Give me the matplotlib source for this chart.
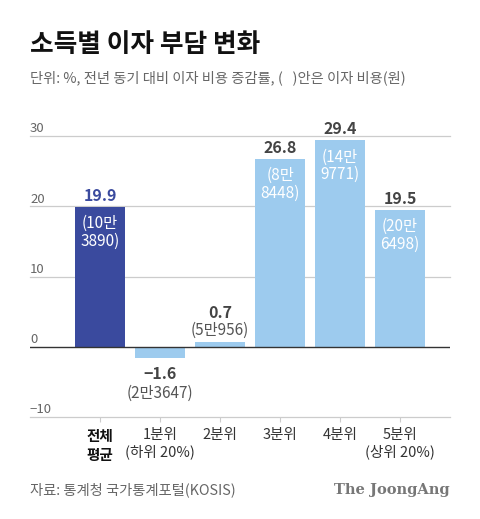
import matplotlib.pyplot as plt
import numpy as np

plt.rcParams['font.family'] = ['Noto Sans CJK KR', 'DejaVu Sans']

# data
groups = ['전체\n평균', '1분위\n(하위 20%)', '2분위', '3분위', '4분위', '5분위\n(상위 20%)']
change = [19.9, -1.6, 0.7, 26.8, 29.4, 19.5]
cost = ['(10만\n3890)', '(2만3647)', '(5만956)', '(8만\n8448)', '(14만\n9771)', '(20만\n6498)']
yticks = [-10, 0, 10, 20, 30]

dark = '#3a4a9e'
light = '#9dcbee'
grey = '#666666'

fig = plt.figure(figsize=(4.8, 5.19), dpi=100)
ax = fig.add_axes([0.0625, 0.1965, 0.875, 0.5414])

x = np.arange(len(groups))
colors = [dark] + [light] * (len(groups) - 1)
ax.bar(x, change, width=0.833, color=colors, zorder=3)

ax.set_xlim(-1.1667, 5.8333)
ax.set_ylim(-10, 30)

# grid
for v in yticks:
    if v == 0:
        ax.axhline(v, color='#333333', lw=1.0, zorder=4)
    else:
        ax.axhline(v, color='#cccccc', lw=0.9, zorder=1, clip_on=False)
    lab = str(v).replace('-', '\u2212')
    ax.annotate(lab, (0, v), xycoords=ax.get_yaxis_transform(),
                xytext=(0, 0.5), textcoords='offset points',
                ha='left', va='bottom', fontsize=9.5, color=grey)

for s in ['top', 'right', 'left', 'bottom']:
    ax.spines[s].set_visible(False)
ax.set_yticks([])
ax.set_xticks(x)
ax.set_xticklabels(groups, fontsize=10.5, color='#333333', linespacing=1.2)
ax.tick_params(axis='x', length=3.6, color='#cccccc', pad=4.5)
lbls = ax.get_xticklabels()
lbls[0].set_fontweight('bold')
lbls[0].set_color('#111111')

# value labels
for i, (v, c) in enumerate(zip(change, cost)):
    vcol = dark if i == 0 else '#444444'
    if v >= 5:
        ax.annotate(f'{v}', (i, v), xytext=(0, 2), textcoords='offset points',
                    ha='center', va='bottom', fontsize=11.5, fontweight='bold', color=vcol)
        ax.annotate(c, (i, v), xytext=(0, -6), textcoords='offset points',
                    ha='center', va='top', fontsize=11, color='white', linespacing=1.05)
    elif v >= 0:
        ax.annotate(c, (i, v), xytext=(0, 2), textcoords='offset points',
                    ha='center', va='bottom', fontsize=11, color='#555555')
        ax.annotate(f'{v}', (i, v), xytext=(0, 15), textcoords='offset points',
                    ha='center', va='bottom', fontsize=11.5, fontweight='bold', color=vcol)
    else:
        lab = f'{v}'.replace('-', '\u2212')
        ax.annotate(lab, (i, v), xytext=(0, -6), textcoords='offset points',
                    ha='center', va='top', fontsize=11.5, fontweight='bold', color=vcol)
        ax.annotate(c, (i, v), xytext=(0, -19), textcoords='offset points',
                    ha='center', va='top', fontsize=11, color='#555555')

fig.text(0.0625, 1 - 45 / 519, '소득별 이자 부담 변화', fontsize=18.5, fontweight='bold',
         color='#111111', ha='left', va='center')
fig.text(0.0625, 1 - 78 / 519, '단위: %, 전년 동기 대비 이자 비용 증감률, (   )안은 이자 비용(원)',
         fontsize=10.3, color=grey, ha='left', va='center')
fig.text(0.0625, 1 - 490 / 519, '자료: 통계청 국가통계포털(KOSIS)', fontsize=10.3,
         color=grey, ha='left', va='center')
fig.text(450 / 480, 1 - 490 / 519, 'The JoongAng', fontsize=10.5, fontweight='bold',
         family='DejaVu Serif', color='#777777', ha='right', va='center')

fig.savefig('out.png', dpi=100, facecolor='white')
